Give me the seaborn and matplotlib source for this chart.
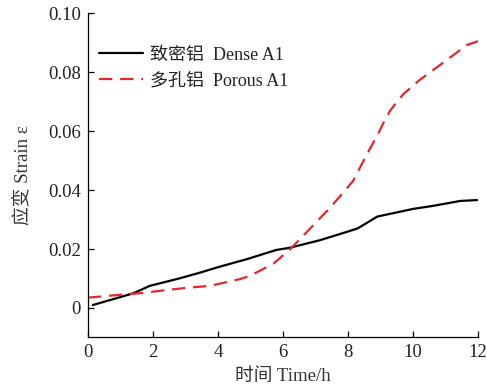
import numpy as np
import pandas as pd
import matplotlib
matplotlib.use("Agg")
import matplotlib.pyplot as plt
import seaborn as sns

# ---- data ----
dense_t = [0.15, 0.9, 1.4, 1.9, 2.8, 3.45, 4.05, 4.9, 5.8, 6.2, 7.14, 7.96, 8.3, 8.9, 10.0, 10.6, 11.45, 11.97]
dense_e = [0.0010, 0.0034, 0.0050, 0.0075, 0.0100, 0.0120, 0.0140, 0.0166, 0.0197, 0.0204, 0.0230, 0.0258, 0.0270, 0.0310, 0.0336, 0.0346, 0.0363, 0.0366]
porous_t = [0.0, 0.9, 1.6, 2.2, 3.0, 3.75, 4.68, 5.0, 5.7, 6.2, 6.7, 7.45, 8.15, 8.6, 8.9, 9.1, 9.3, 9.7, 10.2, 10.83, 11.66, 12.0]
porous_e = [0.0035, 0.0044, 0.0050, 0.0058, 0.0068, 0.0075, 0.0098, 0.0110, 0.0150, 0.0197, 0.0254, 0.0340, 0.0430, 0.0525, 0.0585, 0.0630, 0.0670, 0.0725, 0.0773, 0.0824, 0.0892, 0.0905]
labels = ["致密铝  Dense A1", "多孔铝  Porous A1"]
xticks = [0, 2, 4, 6, 8, 10, 12]
yticks = [0, 0.02, 0.04, 0.06, 0.08, 0.10]
ytick_labels = ["0", "0.02", "0.04", "0.06", "0.08", "0.10"]

df = pd.concat([
    pd.DataFrame({"t": dense_t, "e": dense_e, "s": labels[0]}),
    pd.DataFrame({"t": porous_t, "e": porous_e, "s": labels[1]}),
])

sns.set_theme(style="ticks")
plt.rcParams["font.family"] = ["Liberation Serif", "Noto Sans CJK SC"]
plt.rcParams["xtick.direction"] = "in"
plt.rcParams["ytick.direction"] = "in"

fig = plt.figure(figsize=(4.87, 3.87), dpi=100)
ax = fig.add_axes([0.1807, 0.128, 0.8008, 0.838])

sns.lineplot(data=df, x="t", y="e", hue="s", style="s",
             palette=["black", "#e8262a"], dashes=[(None, None), (6, 3.5)],
             linewidth=1.6, ax=ax, sort=False, estimator=None)
ax.lines[1].set_dashes((6, 3.5))

ax.set_xlim(0, 12)
ax.set_ylim(-0.01, 0.10)
ax.set_xticks(xticks)
ax.set_xticklabels([str(v) for v in xticks])
ax.set_yticks(yticks)
ax.set_yticklabels(ytick_labels)
ax.tick_params(labelsize=13.5, length=4, width=0.9, colors="black")
ax.tick_params(axis="x", pad=5)
ax.tick_params(axis="y", pad=5)
for lbl in ax.get_xticklabels() + ax.get_yticklabels():
    lbl.set_color("#222222")
sns.despine(ax=ax)
for sp in ("left", "bottom"):
    ax.spines[sp].set_linewidth(0.9)
    ax.spines[sp].set_color("black")

ax.set_xlabel("时间 Time/h", fontsize=13.5, color="#333333", labelpad=5)
ax.set_ylabel("应变 Strain ε", fontsize=13.5, color="#333333", labelpad=12)

leg = ax.legend(loc="upper left", bbox_to_anchor=(0.0, 0.93), frameon=False,
                fontsize=13, handlelength=2.45, handletextpad=0.4,
                labelspacing=0.5, borderaxespad=0.2, title=None)
for t in leg.get_texts():
    t.set_color("#222222")

fig.savefig("out.png", dpi=100)
